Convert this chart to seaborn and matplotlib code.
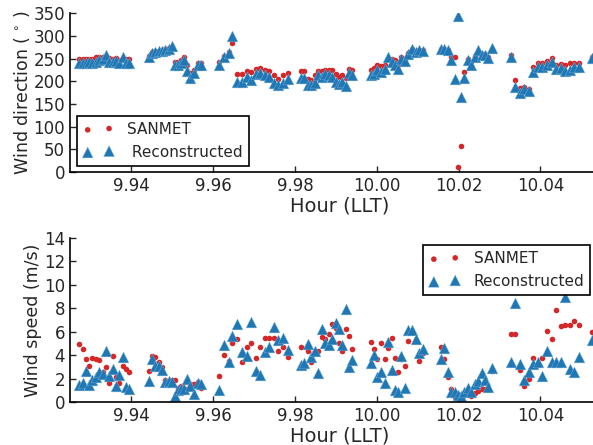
import matplotlib
matplotlib.use('Agg')
import matplotlib.pyplot as plt
from matplotlib.ticker import FormatStrFormatter
import seaborn as sns
import pandas as pd

# sample times (hour, LLT)
hour = [9.9273, 9.9281, 9.9289, 9.9297, 9.9305, 9.9314, 9.9322, 9.9330, 9.9338, 9.9346, 9.9354, 9.9363, 9.9371, 9.9379, 9.9387, 9.9395,
        9.9442, 9.9451, 9.9459, 9.9467, 9.9475, 9.9483, 9.9491, 9.9499,
        9.9506, 9.9513, 9.9521, 9.9528, 9.9536, 9.9544, 9.9552, 9.9562, 9.9570,
        9.9615, 9.9626, 9.9638, 9.9647,
        9.9659, 9.9671, 9.9682, 9.9693, 9.9705, 9.9715, 9.9727, 9.9737, 9.9749, 9.9759, 9.9771, 9.9782,
        9.9814, 9.9822, 9.9833, 9.9840, 9.9848, 9.9856, 9.9865, 9.9874, 9.9882, 9.9891, 9.9900, 9.9908, 9.9916, 9.9924, 9.9932, 9.9940,
        9.9985, 9.9993, 10.0001, 10.0010, 10.0019, 10.0028, 10.0036, 10.0044, 10.0052, 10.0060, 10.0068, 10.0077, 10.0085, 10.0095, 10.0103, 10.0112,
        10.0156, 10.0165, 10.0174, 10.0182, 10.0190, 10.0198, 10.0206, 10.0214, 10.0222, 10.0231, 10.0239, 10.0248, 10.0256, 10.0265, 10.0273, 10.0282,
        10.0327,
        10.0338, 10.0349, 10.0361, 10.0371,
        10.0383, 10.0393, 10.0404, 10.0416, 10.0428, 10.0438, 10.0450, 10.0461, 10.0473, 10.0483, 10.0495,
        10.0526]

# wind direction (deg)
dir_sanmet = [249, 250, 248, 249, 250, 253, 254, 254, 252, 251, 250, 251, 247, 249, 250, 250,
              256, 264, 266, 267, 268, 270, 273, 276,
              243, 243, 247, 253, 236, 218, 225, 241, 241,
              242, 255, 265, 285,
              216, 216, 223, 221, 227, 229, 225, 223, 214, 205, 213, 219,
              222, 222, 205, 203, 213, 223, 223, 225, 225, 224, 216, 210, 214, 207, 227, 225,
              225, 229, 236, 233, 236, 250, 249, 246, 236, 253, 250, 262, 272, 266, 269, 268,
              272, 272, 269, 254, 254, 12, 58, 220, 250, 242, 255, 262, 260, 260, 254, 270,
              257,
              203, 185, 187, 183,
              232, 241, 241, 245, 251, 236, 238, 235, 240, 240, 240,
              253]
dir_recon = [241, 240, 241, 242, 241, 243, 247, 248, 258, 243, 242, 245, 241, 254, 241, 241,
             254, 263, 265, 266, 266, 269, 271, 278,
             235, 235, 240, 247, 223, 208, 219, 235, 235,
             235, 253, 263, 300,
             198, 198, 210, 203, 216, 219, 213, 210, 197, 191, 197, 205,
             208, 208, 192, 192, 196, 213, 210, 215, 213, 210, 198, 194, 198, 190, 218, 213,
             213, 216, 224, 221, 227, 253, 243, 235, 227, 250, 244, 260, 271, 265, 268, 267,
             271, 271, 268, 247, 205, 344, 165, 207, 247, 236, 253, 269, 258, 258, 251, 273,
             253,
             188, 175, 183, 179,
             220, 232, 232, 236, 243, 227, 229, 223, 225, 232, 232,
             251]

# wind speed (m/s)
spd_sanmet = [4.95, 4.53, 3.67, 3.07, 3.73, 3.64, 3.6, 2.6, 3.0, 1.6, 3.93, 2.1, 1.6, 3.1, 2.85, 2.54,
              2.68, 3.9, 3.87, 3.4, 3.0, 1.9, 1.55, 1.85,
              1.85, 1.2, 1.35, 1.15, 1.15, 1.5, 1.5, 1.7, 1.2,
              2.25, 4.0, 3.5, 5.0,
              5.35, 3.44, 4.67, 5.07, 3.79, 4.73, 5.49, 5.49, 5.5, 4.36, 4.67, 3.87,
              4.67, 3.0, 4.36, 3.39, 4.36, 4.36, 5.58, 5.35, 5.78, 6.63, 6.29, 5.07, 4.36, 6.2, 5.66, 4.53,
              5.1, 4.5, 3.64, 5.0, 3.64, 4.58, 5.44, 3.79, 2.6, 3.64, 3.1, 5.2, 6.0, 5.3, 3.5, 4.16,
              4.67, 3.64, 2.17, 1.1, 0.46, 0.65, 0.55, 0.65, 0.74, 0.51, 0.74, 0.97, 1.08, 1.15, 1.1, 2.68,
              5.8,
              5.8, 2.73, 1.39, 1.94,
              3.73, 3.16, 3.73, 6.09, 5.35, 7.86, 6.52, 6.55, 6.55, 6.94, 6.55,
              6.0]
spd_recon = [1.45, 1.65, 2.68, 1.45, 1.88, 2.11, 2.59, 2.39, 4.38, 2.25, 2.79, 1.37, 2.31, 3.82, 1.31, 1.08,
             1.82, 3.65, 3.05, 3.1, 2.73, 1.74, 1.8, 1.75,
             0.48, 1.0, 1.1, 1.1, 1.96, 1.4, 0.65, 1.65, 1.55,
             1.02, 4.87, 3.39, 5.64,
             6.66, 4.24, 3.93, 6.8, 2.68, 2.31, 4.24, 4.67, 6.43, 5.3, 5.44, 4.44,
             3.16, 3.3, 4.95, 3.82, 4.36, 2.5, 6.2, 5.0, 4.87, 5.4, 6.72, 6.2, 4.87, 7.94, 3.02, 3.59,
             3.3, 4.0, 2.17, 2.6, 1.6, 5.15, 2.73, 1.02, 0.88, 3.96, 1.17, 6.15, 6.15, 5.35, 4.16, 4.5,
             3.67, 4.58, 2.54, 0.88, 0.88, 0.6, 0.5, 0.88, 1.17, 0.88, 1.51, 1.8, 2.45, 1.88, 1.31, 2.93,
             3.44,
             8.43, 3.22, 1.88, 2.59,
             3.22, 3.44, 2.25, 4.38, 3.4, 3.44, 3.44, 8.94, 2.79, 2.54, 3.87,
             5.3]

xticks = [9.94, 9.96, 9.98, 10.00, 10.02, 10.04]

df = pd.DataFrame({'hour': hour, 'dir_sanmet': dir_sanmet, 'dir_recon': dir_recon,
                   'spd_sanmet': spd_sanmet, 'spd_recon': spd_recon})

sns.set_style('ticks')
plt.rcParams['font.family'] = ['DejaVu Sans']
plt.rcParams['mathtext.fontset'] = 'dejavusans'

red = '#d62728'
blue = '#1f77b4'

fig = plt.figure(figsize=(5.93, 4.45), dpi=100)
ax1 = fig.add_axes([0.118, 0.6135, 0.9106, 0.357])
ax2 = fig.add_axes([0.118, 0.0966, 0.9106, 0.3685])

panels = [(ax1, 'dir_sanmet', 'dir_recon', (0, 350), range(0, 351, 50),
           r'Wind direction ($\,^\circ\,$)', ' Reconstructed'),
          (ax2, 'spd_sanmet', 'spd_recon', (0, 14), range(0, 15, 2),
           'Wind speed (m/s)', 'Reconstructed')]

for ax, ys, yr, ylim, yticks, ylab, rlab in panels:
    sns.scatterplot(data=df, x='hour', y=ys, ax=ax, color=red, marker='o', s=16,
                    linewidth=0, label='SANMET')
    sns.scatterplot(data=df, x='hour', y=yr, ax=ax, color=blue, marker='^', s=60,
                    linewidth=0.3, edgecolor='#7fb4db', label=rlab)
    ax.set_xlim(9.925, 10.057)
    ax.set_ylim(*ylim)
    ax.set_xticks(xticks)
    ax.set_yticks(list(yticks))
    ax.xaxis.set_major_formatter(FormatStrFormatter('%.2f'))
    ax.set_xlabel('Hour (LLT)', fontsize=14, labelpad=1)
    ax.set_ylabel(ylab, fontsize=12.5, labelpad=1)
    ax.tick_params(direction='in', length=4, width=1, labelsize=12, pad=3.5)
    sns.despine(ax=ax)
    for sp in ['left', 'bottom']:
        ax.spines[sp].set_linewidth(1.2)
        ax.spines[sp].set_color('black')

leg_kw = dict(scatterpoints=2, fontsize=11, frameon=True, fancybox=False,
              edgecolor='black', framealpha=1, borderaxespad=0, handletextpad=0.9,
              borderpad=0.4, labelspacing=0.5)
l1 = ax1.legend(loc='lower left', bbox_to_anchor=(0.013, 0.04), **leg_kw)
l2 = ax2.legend(loc='upper left', bbox_to_anchor=(0.654, 0.957), **leg_kw)
for leg in (l1, l2):
    leg.get_frame().set_linewidth(1.2)

fig.savefig('out.png', dpi=100)
